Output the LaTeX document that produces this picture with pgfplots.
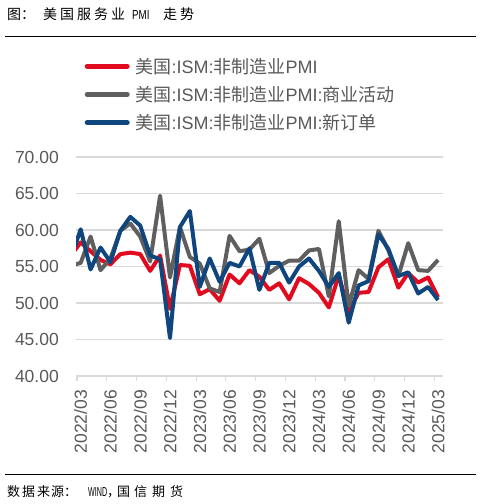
\documentclass[border=0pt]{standalone}
\usepackage{pgfplots}
\pgfplotsset{compat=1.18}
\usepackage{fontspec}
\setmainfont{Liberation Sans}
\newfontfamily\cjk{Noto Sans CJK SC}
\definecolor{cred}{RGB}{225,10,30}
\definecolor{cgray}{RGB}{95,95,95}
\definecolor{cblue}{RGB}{15,70,125}
\definecolor{tgray}{RGB}{89,89,89}
\definecolor{gridc}{RGB}{217,217,217}
\begin{document}
\begin{tikzpicture}[x=1pt,y=1pt]
\useasboundingbox (0,0) rectangle (482,504);
% title
\begin{scope}[every node/.style={inner sep=0pt, anchor=west, font=\fontsize{14}{14}\selectfont\cjk}]
\node at (7,490) {\makebox[14pt][l]{图}\makebox[22pt][l]{：}\makebox[17pt][l]{美}\makebox[17pt][l]{国}\makebox[17pt][l]{服}\makebox[17pt][l]{务}\makebox[21pt][l]{业}\makebox[31pt][l]{\fontsize{13}{13}\selectfont\setmainfont{Liberation Sans}\normalfont\scalebox{0.75}[1]{PMI}}\makebox[17pt][l]{走}势};
\end{scope}
\draw[line width=1pt, black] (5,467) -- (476,467);
% footer
\draw[line width=1pt, black] (5,29) -- (476,29);
\begin{scope}[every node/.style={inner sep=0pt, anchor=west, font=\fontsize{13}{13}\selectfont\cjk}]
\node at (7,12.5) {\makebox[15pt][l]{数}\makebox[15pt][l]{据}\makebox[14pt][l]{来}\makebox[13pt][l]{源}\makebox[24pt][l]{：}\makebox[19pt][l]{\rmfamily\scalebox{0.55}[1]{WIND}}\makebox[10pt][l]{，}\makebox[17pt][l]{国}\makebox[18pt][l]{信}\makebox[18pt][l]{期}货};
\end{scope}
\begin{axis}[
  at={(76pt,128pt)}, anchor=south west,
  scale only axis, width=367pt, height=219pt,
  xmin=-0.47, xmax=36.5, ymin=40, ymax=70,
  ytick={40,45,...,70},
  ymajorgrids, grid style={gridc, line width=1.2pt},
  axis lines*=left,
  y axis line style={draw=none},
  x axis line style={gridc, line width=1.2pt},
  ytick style={draw=none},
  xtick={-0.37,2.63,5.63,8.63,11.63,14.63,17.63,20.63,23.63,26.63,29.63,32.63,35.63},
  xticklabels={2022/03,2022/06,2022/09,2022/12,2023/03,2023/06,2023/09,2023/12,2024/03,2024/06,2024/09,2024/12,2025/03},
  xtick style={gridc, line width=1.2pt},
  tick align=outside, major tick length=5pt,
  yticklabel style={font=\fontsize{17.5}{20}\selectfont, text=tgray, anchor=east, inner sep=0pt, xshift=-12pt},
  xticklabel style={font=\fontsize{17.5}{20}\selectfont, text=tgray, inner sep=0pt, xshift=3.7pt, yshift=-9pt, rotate=90, anchor=east},
  /pgf/number format/.cd, fixed, fixed zerofill, precision=2, assume math mode=true, /pgfplots/.cd,
  legend style={at={(0.0232,1.286)}, anchor=west, draw=none, fill=none, inner sep=0pt,
     font=\fontsize{18}{21}\selectfont, text=tgray, nodes={inner sep=2pt}, row sep=7.5pt},
  legend cell align=left,
  legend image code/.code={\draw[#1, line width=5pt, line cap=round] (2.5pt,0pt) -- (42.5pt,0pt); \path (47pt,0pt);},
  every axis plot/.append style={line width=4pt, line join=round, no marks},
]
\addplot[cred] coordinates {
(-1,56.5) (0,58.3) (1,57.1) (2,55.9) (3,55.3) (4,56.7) (5,56.9) (6,56.7) (7,54.4) (8,56.5) (9,49.2)
(10,55.2) (11,55.1) (12,51.2) (13,51.9) (14,50.3) (15,53.9) (16,52.7) (17,54.5) (18,53.6) (19,51.8) (20,52.7) (21,50.5)
(22,53.4) (23,52.6) (24,51.4) (25,49.4) (26,53.8) (27,48.8) (28,51.4) (29,51.5) (30,54.9) (31,56.0) (32,52.1) (33,54.1)
(34,52.8) (35,53.5) (36,50.8)};
\addlegendentry{{\cjk 美国}:ISM:{\cjk 非制造业}PMI}
\addplot[cgray] coordinates {
(-1,55.1) (0,55.5) (1,59.1) (2,54.5) (3,56.1) (4,59.9) (5,60.9) (6,59.1) (7,55.7) (8,64.7) (9,53.5)
(10,60.4) (11,56.3) (12,55.4) (13,52.0) (14,51.5) (15,59.2) (16,57.1) (17,57.3) (18,58.8) (19,54.1) (20,55.1) (21,55.8)
(22,55.8) (23,57.2) (24,57.4) (25,50.9) (26,61.2) (27,49.6) (28,54.5) (29,53.3) (30,59.9) (31,57.2) (32,53.7) (33,58.2)
(34,54.5) (35,54.4) (36,55.9)};
\addlegendentry{{\cjk 美国}:ISM:{\cjk 非制造业}PMI:{\cjk 商业活动}}
\addplot[cblue] coordinates {
(-1,56.1) (0,60.1) (1,54.6) (2,57.6) (3,55.6) (4,59.9) (5,61.8) (6,60.6) (7,56.5) (8,56.0) (9,45.2)
(10,60.4) (11,62.6) (12,52.2) (13,56.1) (14,52.9) (15,55.5) (16,55.0) (17,57.5) (18,51.8) (19,55.5) (20,55.5) (21,52.8)
(22,55.0) (23,56.1) (24,54.4) (25,52.2) (26,54.1) (27,47.3) (28,52.4) (29,53.0) (30,59.4) (31,57.4) (32,53.7) (33,54.2)
(34,51.3) (35,52.2) (36,50.4)};
\addlegendentry{{\cjk 美国}:ISM:{\cjk 非制造业}PMI:{\cjk 新订单}}
\end{axis}
\end{tikzpicture}
\end{document}
